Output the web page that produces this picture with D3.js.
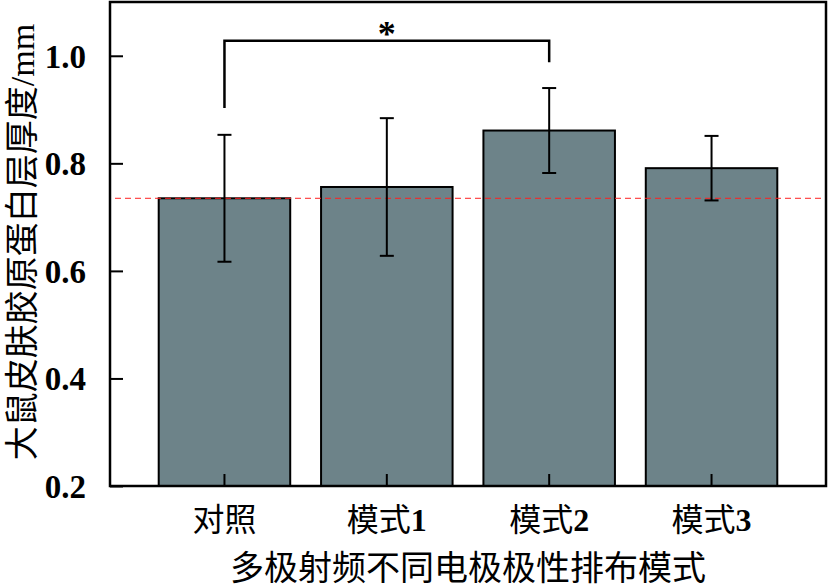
<!DOCTYPE html>
<html>
<head>
<meta charset="utf-8">
<script src="https://cdn.jsdelivr.net/npm/d3@7"></script>
<style>
  body { margin: 0; background: #fff; }
  text { font-family: "Liberation Serif", "Noto Sans CJK SC", serif; fill: #000; }
</style>
</head>
<body>
<div id="chart"></div>
<script>
// Data
const categories = ['对照', '模式1', '模式2', '模式3']
const means = [0.735, 0.756, 0.861, 0.791]
const errors = [0.118, 0.128, 0.079, 0.060]
const yTicks = [0.2, 0.4, 0.6, 0.8, 1.0]
const refValue = 0.735
// significance bracket: from, to, top, left foot, right foot
const sigFrom = '对照'
const sigTo = '模式2'
const sigLevels = [1.028, 0.903, 0.988]
const sigLabel = '*'

const yTitle = '大鼠皮肤胶原蛋白层厚度/mm'
const xTitle = '多极射频不同电极极性排布模式'

// Layout
const width = 828
const height = 588
const margin = { top: 2, right: 2, bottom: 102, left: 110 }
const innerW = width - margin.left - margin.right
const innerH = height - margin.top - margin.bottom

const svg = d3.select('#chart')
  .append('svg')
    .attr('width', width)
    .attr('height', height)

const g = svg.append('g')
  .attr('transform', 'translate(' + margin.left + ',' + margin.top + ')')

const x = d3.scaleBand()
  .domain(categories)
  .range([0, innerW])
  .paddingInner(0.19)
  .paddingOuter(0.3)

const y = d3.scaleLinear()
  .domain([0.2, 1.1])
  .range([innerH, 0])

const cx = c => x(c) + x.bandwidth() / 2

// Bars
g.selectAll('.bar')
  .data(means)
  .enter()
  .append('rect')
    .attr('class', 'bar')
    .attr('x', (d, i) => x(categories[i]))
    .attr('y', d => y(d))
    .attr('width', x.bandwidth())
    .attr('height', d => innerH - y(d))
    .attr('fill', '#6d8389')
    .attr('stroke', '#000')
    .attr('stroke-width', 2)

// Reference line
g.append('line')
  .attr('x1', 5)
  .attr('x2', innerW - 3)
  .attr('y1', y(refValue))
  .attr('y2', y(refValue))
  .attr('stroke', '#ff2020')
  .attr('stroke-width', 1)
  .attr('stroke-dasharray', '6,4')

// Error bars
const capW = 7
means.forEach((m, i) => {
  const c = cx(categories[i])
  const eb = g.append('g').attr('stroke', '#000').attr('stroke-width', 2)
  eb.append('line')
    .attr('x1', c).attr('x2', c)
    .attr('y1', y(m + errors[i])).attr('y2', y(m - errors[i]))
  eb.append('line')
    .attr('x1', c - capW).attr('x2', c + capW)
    .attr('y1', y(m + errors[i])).attr('y2', y(m + errors[i]))
  eb.append('line')
    .attr('x1', c - capW).attr('x2', c + capW)
    .attr('y1', y(m - errors[i])).attr('y2', y(m - errors[i]))
})

// Significance bracket
const bx1 = cx(sigFrom)
const bx2 = cx(sigTo)
g.append('path')
  .attr('d', d3.line()([
    [bx1, y(sigLevels[1])],
    [bx1, y(sigLevels[0])],
    [bx2, y(sigLevels[0])],
    [bx2, y(sigLevels[2])]
  ]))
  .attr('fill', 'none')
  .attr('stroke', '#000')
  .attr('stroke-width', 2.5)

g.append('text')
  .attr('x', (bx1 + bx2) / 2)
  .attr('y', y(sigLevels[0]) + 5)
  .attr('text-anchor', 'middle')
  .attr('font-size', 36)
  .attr('font-weight', 'bold')
  .text(sigLabel)

// Axes (ticks pointing inward)
const yAxis = g.append('g')
  .call(d3.axisLeft(y).tickValues(yTicks).tickSize(-13).tickPadding(24).tickFormat(d3.format('.1f')))
yAxis.select('.domain').remove()
yAxis.selectAll('line').attr('stroke', '#000').attr('stroke-width', 2)
yAxis.selectAll('text')
  .attr('font-size', 33)
  .attr('font-weight', 'bold')
  .attr('font-family', '"Liberation Serif", serif')
  .attr('dy', '0.34em')

const xAxis = g.append('g')
  .attr('transform', 'translate(0,' + innerH + ')')
  .call(d3.axisBottom(x).tickSize(-12).tickPadding(28).tickFormat(''))
xAxis.select('.domain').remove()
xAxis.selectAll('line').attr('stroke', '#000').attr('stroke-width', 2)

// Category labels: CJK regular, digits bold serif
xAxis.selectAll('.tick')
  .append('text')
    .attr('y', 23)
    .attr('dy', '0.7em')
    .attr('text-anchor', 'middle')
    .attr('font-size', 32)
    .each(function (d) {
      const t = d3.select(this)
      const m = d.match(/^(\D*)(\d*)$/)
      t.append('tspan').text(m[1])
      if (m[2]) t.append('tspan').attr('font-weight', 'bold').text(m[2])
    })

// Frame
g.append('rect')
  .attr('x', 0)
  .attr('y', 0)
  .attr('width', innerW)
  .attr('height', innerH)
  .attr('fill', 'none')
  .attr('stroke', '#000')
  .attr('stroke-width', 2.5)

// Axis titles
svg.append('text')
  .attr('x', margin.left + innerW / 2)
  .attr('y', 580)
  .attr('text-anchor', 'middle')
  .attr('font-size', 34)
  .text(xTitle)

svg.append('text')
  .attr('transform', 'translate(22,' + (margin.top + 240) + ') rotate(-90)')
  .attr('text-anchor', 'middle')
  .attr('dy', '0.35em')
  .attr('font-size', 34)
  .text(yTitle)
</script>
</body>
</html>
